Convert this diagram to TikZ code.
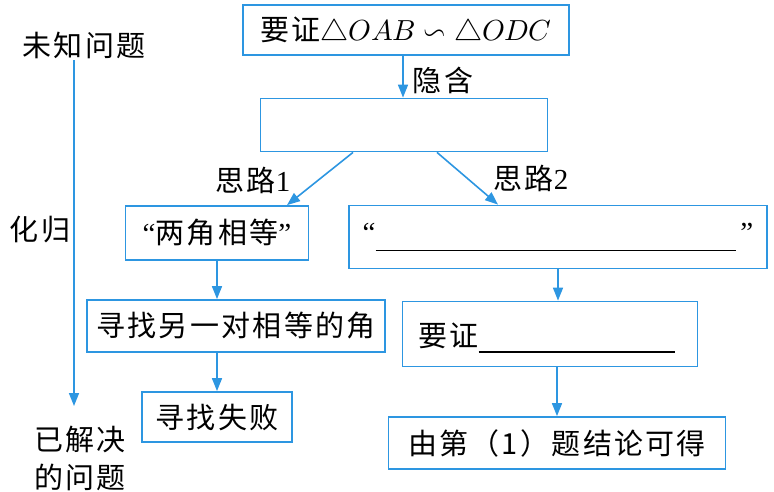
\documentclass[tikz,border=0pt]{standalone}
\usepackage{fontspec}
\usepackage{unicode-math}
\setmainfont{Liberation Serif}
\setmathfont{Latin Modern Math}
\newfontfamily\cjk[LetterSpace=8]{Noto Sans CJK SC}
\usetikzlibrary{arrows.meta}
\definecolor{fblue}{RGB}{45,150,225}
\tikzset{
  every node/.style={font=\fontsize{29}{34}\selectfont, inner sep=0pt},
  box/.style={draw=fblue, line width=1.8pt, rectangle, align=center},
  arr/.style={draw=fblue, line width=1.6pt, -{Triangle[length=13pt,width=10pt]}},
}
\begin{document}
\begin{tikzpicture}[x=1pt,y=-1pt]
\useasboundingbox (0,0) rectangle (774,491);
% left column
\node (unk) at (84,45) {\cjk 未知问题};
\node (hg) at (40,230) {\cjk 化归};
\node (solved1) at (80,440) {\cjk 已解决};
\node (solved2) at (80,477) {\cjk 的问题};
\coordinate (ltop) at (74,60);
\coordinate (lend) at (74,406);
\draw[arr] (ltop) -- (lend);
% boxes
\node[box, minimum width=326, minimum height=50] (b1) at (406,30) {{\cjk 要证}$\triangle OAB\backsim\triangle ODC$};
\node[box, minimum width=287, minimum height=53] (b2) at (404,125) {};
\node[box, minimum width=183, minimum height=54] (b3) at (217,233) {“{\cjk 两角相等}”};
\node[box, minimum width=418, minimum height=63] (b4) at (558,237) {“\raisebox{-9pt}{\rule{360pt}{1.4pt}}\,”};
\node[box, minimum width=298, minimum height=52] (b5) at (236,326) {\cjk 寻找另一对相等的角};
\node[box, minimum width=295, minimum height=65] (b6) at (550,334) {};
\node[anchor=west] (yz) at (418,338) {{\cjk 要证}\raisebox{-6pt}{\rule{196pt}{1.4pt}}};
\node[box, minimum width=150, minimum height=50] (b7) at (217,417) {\cjk 寻找失败};
\node[box, minimum width=337, minimum height=52] (b8) at (557,443) {\cjk 由第（1）题结论可得};
% labels
\node (yh) at (443,80) {\cjk 隐含};
\node (sl1) at (253,180) {{\cjk 思路}1};
\node (sl2) at (531,178) {{\cjk 思路}2};
% connectors
\draw[arr] (b1.south -| 403,0) -- (b2.north -| 403,0);
\draw[arr] ([xshift=-51]b2.south) -- ([xshift=70]b3.north);
\draw[arr] ([xshift=33]b2.south) -- ([xshift=-60]b4.north);
\draw[arr] (b3.south) -- (b5.north -| b3.south);
\draw[arr] (b5.south -| b7.north) -- (b7.north);
\draw[arr] (b4.south) -- (b6.north -| b4.south);
\draw[arr] (b6.south -| b8.north) -- (b8.north);
\end{tikzpicture}
\end{document}
